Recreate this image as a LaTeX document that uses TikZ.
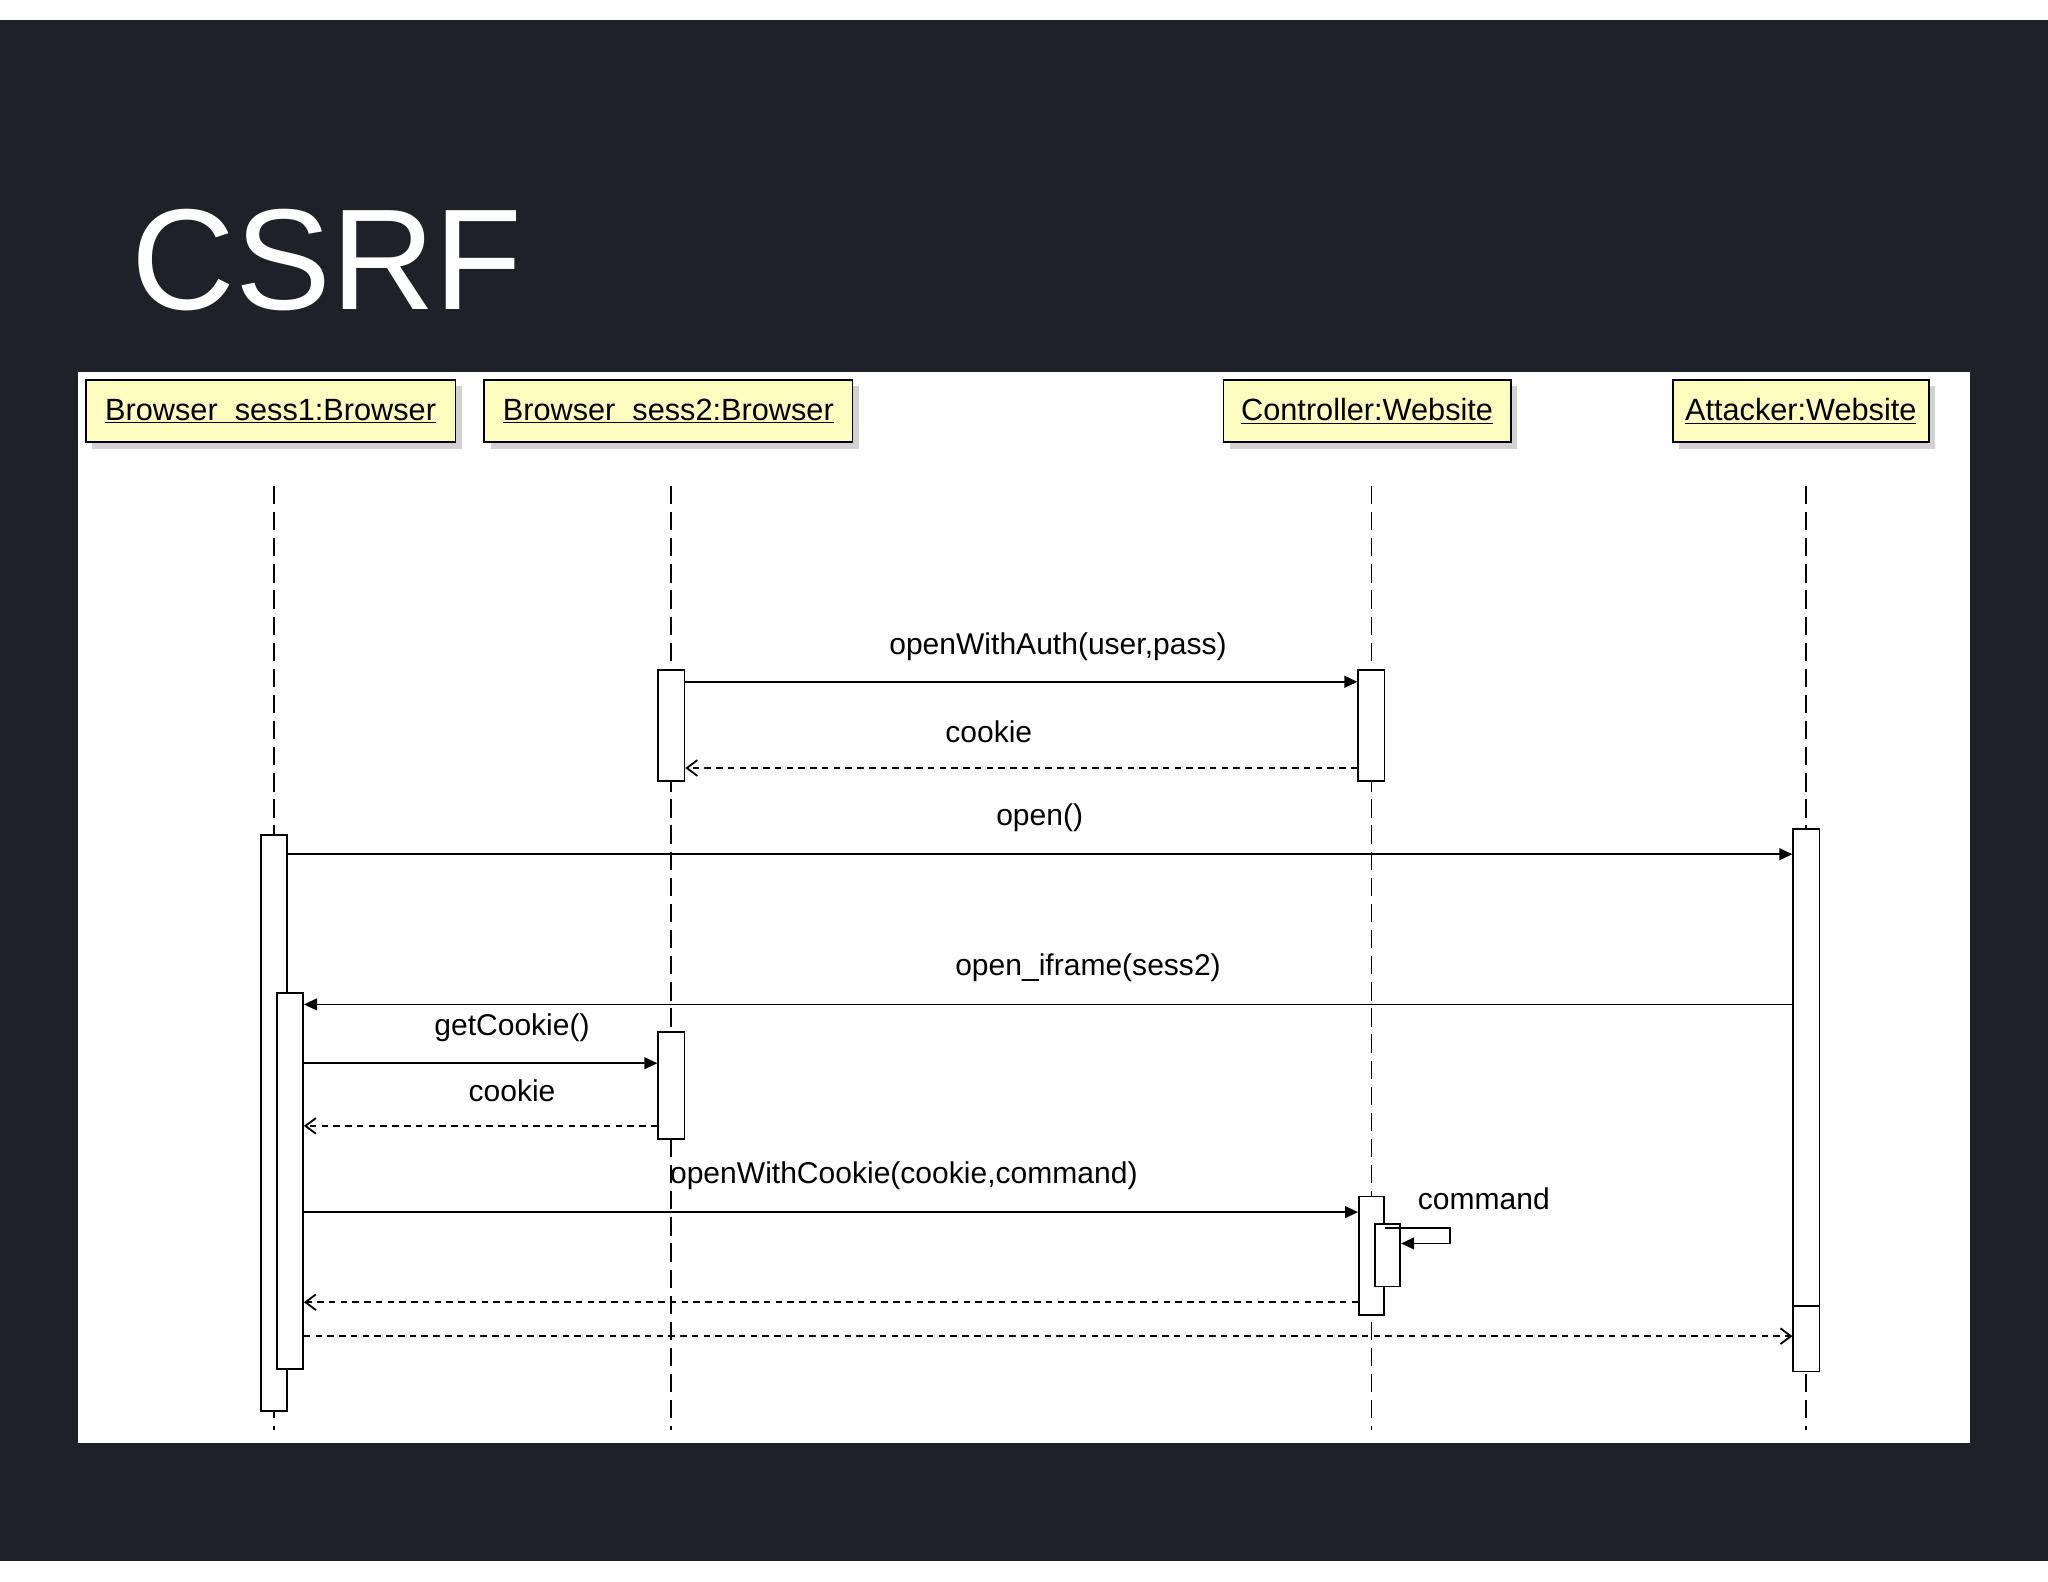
\documentclass[tikz,border=0pt]{standalone}
\usepackage{fontspec}
\setmainfont{Liberation Sans}
\usetikzlibrary{arrows.meta,shadows}
\definecolor{bgdark}{RGB}{30,34,40}
\begin{document}
\begin{tikzpicture}[x=1pt,y=-1pt,line width=1.4pt,
  hdr/.style={draw,fill=yellow!25,anchor=north west,inner sep=0pt,font=\fontsize{23.5}{26}\selectfont,drop shadow={shadow xshift=5pt,shadow yshift=-5pt,fill=gray!70}},
  act/.style={draw,fill=white,minimum width=20pt,inner sep=0pt},
  life/.style={dash pattern=on 14pt off 6pt},
  msg/.style={-{Triangle[length=10pt,width=9pt]}},
  ret/.style={dash pattern=on 5pt off 4pt,-{Straight Barb[length=8pt,width=12pt]}},
  lbl/.style={font=\fontsize{23}{26}\selectfont}]
\useasboundingbox (0,0) rectangle (1568,1211);
\fill[white] (0,0) rectangle (1568,1211);
\fill[bgdark] (0,15) rectangle (1568,1195);
\node[anchor=base west,text=white,font=\fontsize{110}{120}\selectfont,inner sep=0pt] (title) at (100,237) {CSRF};
\fill[white] (60,285) rectangle (1508,1105);
% headers
\node[hdr,minimum width=283pt,minimum height=48pt] (h1) at (65,290) {\underline{Browser\ \ sess1:Browser}};
\node[hdr,minimum width=282pt,minimum height=48pt] (h2) at (370,290) {\underline{Browser\ \ sess2:Browser}};
\node[hdr,minimum width=220pt,minimum height=48pt] (h3) at (936,290) {\underline{Controller:Website}};
\node[hdr,minimum width=196pt,minimum height=48pt] (h4) at (1280,290) {\underline{Attacker:Website}};
% lifelines
\coordinate (l1) at (210,372); \coordinate (l1e) at (210,1095);
\coordinate (l2) at (514,372); \coordinate (l2e) at (514,1095);
\coordinate (l3) at (1050,372); \coordinate (l3e) at (1050,1095);
\coordinate (l4) at (1383,372); \coordinate (l4e) at (1383,1095);
\draw[life] (l1) -- (l1e); \draw[life] (l2) -- (l2e);
\draw[life] (l3) -- (l3e); \draw[life] (l4) -- (l4e);
% activations
\node[act,minimum height=85pt] (a2) at (514,555.5) {};
\node[act,minimum height=85pt] (a3) at (1050,555.5) {};
\node[act,minimum height=441pt] (a1) at (210,859.5) {};
\node[act,minimum height=415pt] (a4) at (1383,842.5) {};
\draw (1373,1000) -- (1393,1000);
\node[act,minimum height=288pt] (a1b) at (222,904) {};
\node[act,minimum height=82pt] (a2b) at (514,831) {};
\node[act,minimum height=91pt,minimum width=19pt] (a3b) at (1050,961.5) {};
\node[act,minimum height=48pt,minimum width=19pt] (a3c) at (1062.5,961) {};
% messages
\draw[msg] (a2.east |- 0,522) -- (a3.west |- 0,522);
\node[lbl] (m1) at (810,495) {openWithAuth(user,pass)};
\draw[ret] (a3.west |- 0,588) -- (a2.east |- 0,588);
\node[lbl] (m2) at (757,560) {cookie};
\draw[msg] (a1.east |- 0,654) -- (a4.west |- 0,654);
\node[lbl] (m3) at (796,626) {open()};
\draw[msg] (a4.west |- 0,769) -- (a1b.east |- 0,769);
\node[lbl] (m4) at (833,741) {open\_iframe(sess2)};
\draw[msg] (a1b.east |- 0,814) -- (a2b.west |- 0,814);
\node[lbl] (m5) at (392,787) {getCookie()};
\draw[ret] (a2b.west |- 0,862) -- (a1b.east |- 0,862);
\node[lbl] (m6) at (392,835) {cookie};
\draw[msg] (a1b.east |- 0,928) -- (a3b.west |- 0,928);
\node[lbl] (m7) at (692,900) {openWithCookie(cookie,command)};
\draw[msg] (a3b.east |- 0,940) -- (1110,940) -- (1110,952) -- (a3c.east |- 0,952);
\node[lbl] (m8) at (1136,918) {command};
\draw[ret] (a3b.west |- 0,997) -- (a1b.east |- 0,997);
\draw[ret] (a1b.east |- 0,1023) -- (a4.west |- 0,1023);
\end{tikzpicture}
\end{document}
